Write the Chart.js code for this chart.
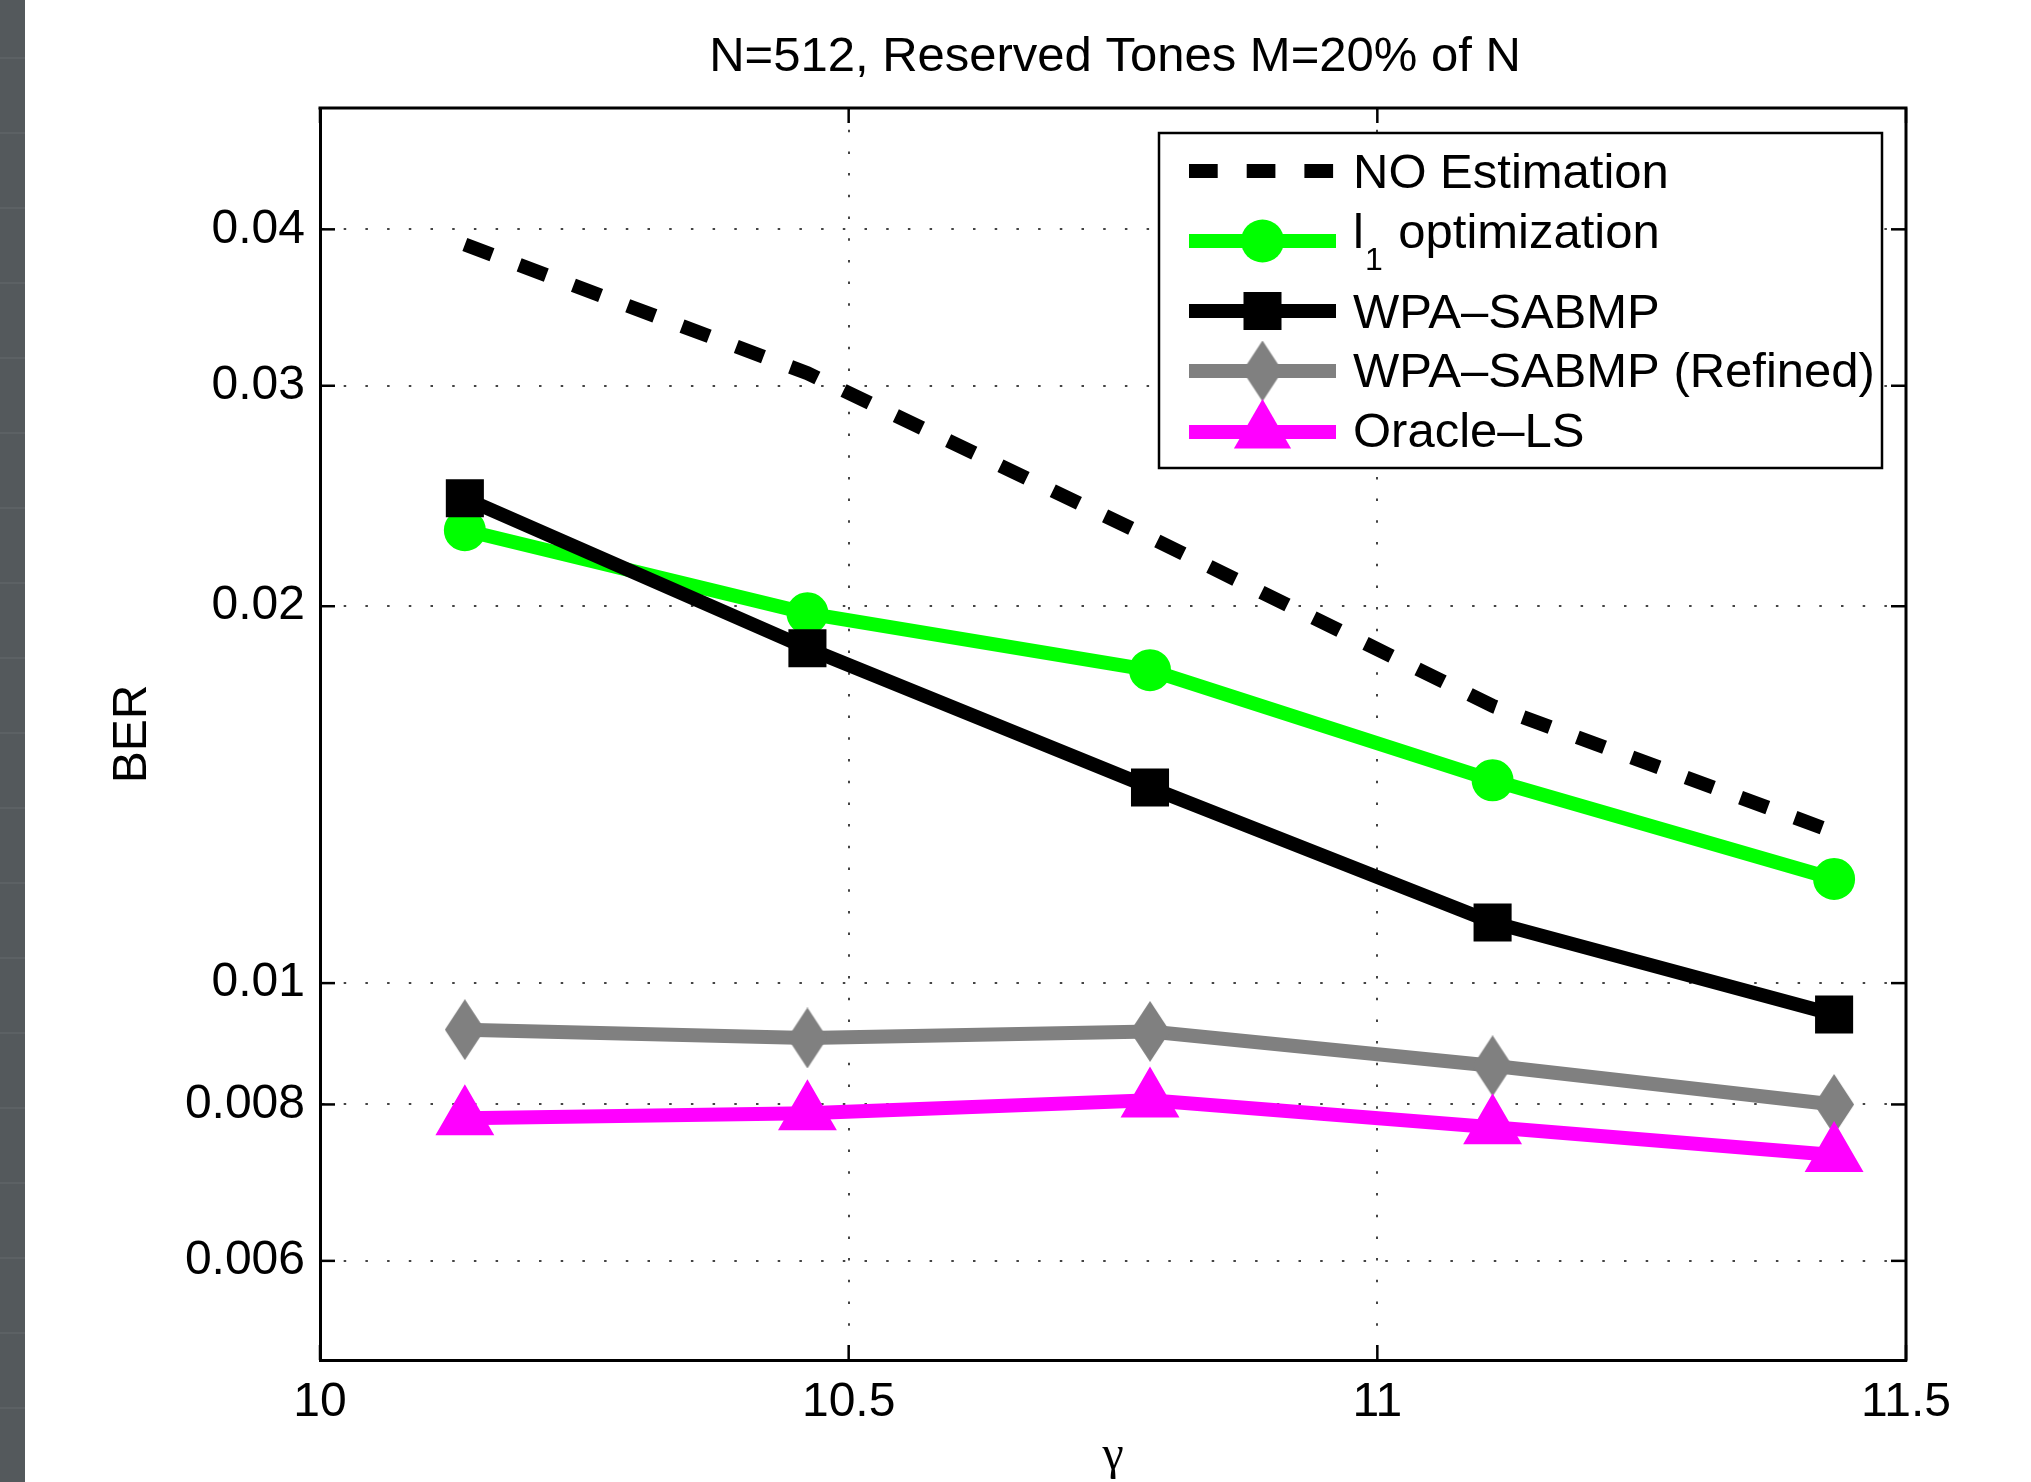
<!DOCTYPE html>
<html><head><meta charset="utf-8">
<script src="https://cdn.jsdelivr.net/npm/chart.js@4.4.1/dist/chart.umd.min.js"></script>
<style>
html,body{margin:0;padding:0;background:#fff;width:2031px;height:1482px;overflow:hidden}
#wrap{position:relative;width:2031px;height:1482px}
#bar{position:absolute;left:0;top:0;width:25px;height:1482px;background:#54595c;
 background-image:repeating-linear-gradient(to bottom, transparent 0px, transparent 57px, #5c6164 57px, #5c6164 59px, transparent 59px, transparent 75px);}
canvas{position:absolute;left:0;top:0}
</style></head><body>
<div id="wrap"><canvas id="c" width="2031" height="1482"></canvas><div id="bar"></div></div>
<script>
// ---- data ----
const titleText = 'N=512, Reserved Tones M=20% of N';
const xLabel = 'γ';
const yLabel = 'BER';
const gammaValues = [10.137, 10.461, 10.785, 11.109, 11.432];
const noEstimation = [0.0389, 0.0307, 0.0227, 0.01665, 0.0132];
const l1Optimization = [0.0230, 0.01974, 0.01778, 0.01452, 0.01211];
const wpaSabmp = [0.02439, 0.01851, 0.01433, 0.01118, 0.00944];
const wpaSabmpRefined = [0.00918, 0.00904, 0.00915, 0.00859, 0.0080];
const oracleLs = [0.0078, 0.00787, 0.00806, 0.00767, 0.00729];
const seriesNames = ['NO Estimation', 'l1 optimization', 'WPA–SABMP', 'WPA–SABMP (Refined)', 'Oracle–LS'];
const xTickValues = [10, 10.5, 11, 11.5];
const xTickLabels = ['10', '10.5', '11', '11.5'];
const yTickValues = [0.006, 0.008, 0.01, 0.02, 0.03, 0.04];
const yTickLabels = ['0.006', '0.008', '0.01', '0.02', '0.03', '0.04'];

// ---- styles ----
const FONT = "'Liberation Sans', Arial, Helvetica, sans-serif";
const GREEN = '#00ff00', GRAY = '#808080', MAGENTA = '#ff00ff', BLACK = '#000000';
const LW = 14;

function diamondCanvas(w, h, color) {
  const c = document.createElement('canvas');
  c.width = w; c.height = h;
  const g = c.getContext('2d');
  g.fillStyle = color;
  g.beginPath();
  g.moveTo(w / 2, 0); g.lineTo(w, h / 2); g.lineTo(w / 2, h); g.lineTo(0, h / 2);
  g.closePath(); g.fill();
  return c;
}
const diamond = diamondCanvas(40, 61, GRAY);

function pts(ys) { return gammaValues.map((x, i) => ({x: x, y: ys[i]})); }

const decor = {
  id: 'decor',
  afterDraw(chart) {
    const {ctx, chartArea: a, scales} = chart;
    const xs = scales.x, ys = scales.y;
    ctx.save();
    const line = (x1, y1, x2, y2) => { ctx.beginPath(); ctx.moveTo(x1, y1); ctx.lineTo(x2, y2); ctx.stroke(); };
    ctx.strokeStyle = BLACK;
    ctx.lineWidth = 3;
    ctx.beginPath(); ctx.moveTo(a.left - 1.5, a.top); ctx.lineTo(a.right, a.top); ctx.lineTo(a.right, a.bottom + 1.5); ctx.stroke();
    ctx.lineWidth = 2.5;
    const TL = 15;
    yTickValues.forEach(v => {
      const py = ys.getPixelForValue(v);
      line(a.left, py, a.left + TL, py);
      line(a.right - TL, py, a.right, py);
    });
    xTickValues.forEach(v => {
      const px = xs.getPixelForValue(v);
      line(px, a.bottom, px, a.bottom - TL);
      line(px, a.top, px, a.top + TL);
    });
    // title
    ctx.fillStyle = BLACK;
    ctx.font = '49px ' + FONT;
    ctx.textAlign = 'center';
    ctx.textBaseline = 'alphabetic';
    ctx.fillText(titleText, (a.left + a.right) / 2 + 2, 71);

    // legend
    const bx = 1159, by = 133, bw = 1882 - 1159, bh = 468 - 133;
    ctx.fillStyle = '#fff';
    ctx.fillRect(bx, by, bw, bh);
    ctx.strokeStyle = BLACK; ctx.lineWidth = 2.5;
    ctx.strokeRect(bx, by, bw, bh);
    const lx1 = 1189, lx2 = 1336, mx = (lx1 + lx2) / 2, tx = 1353;
    const rowY = [171, 241, 311, 371, 432];
    const base = [188, 248, 328, 387, 447];
    const colors = [BLACK, GREEN, BLACK, GRAY, MAGENTA];
    ctx.lineCap = 'butt';
    for (let i = 0; i < 5; i++) {
      ctx.strokeStyle = colors[i];
      ctx.lineWidth = LW;
      ctx.setLineDash(i === 0 ? [28.7, 29] : []);
      line(lx1, rowY[i], lx2, rowY[i]);
      ctx.setLineDash([]);
      ctx.fillStyle = colors[i];
      const cy = rowY[i];
      if (i === 1) { ctx.beginPath(); ctx.arc(mx, cy, 21.5, 0, Math.PI * 2); ctx.fill(); }
      if (i === 2) { ctx.fillRect(mx - 19, cy - 19, 38, 38); }
      if (i === 3) { ctx.drawImage(diamond, mx - 20, cy - 30.5); }
      if (i === 4) {
        const r = 33;
        ctx.beginPath();
        ctx.moveTo(mx, cy - r);
        ctx.lineTo(mx + r * Math.sin(2 * Math.PI / 3), cy + r / 2);
        ctx.lineTo(mx - r * Math.sin(2 * Math.PI / 3), cy + r / 2);
        ctx.closePath(); ctx.fill();
      }
    }
    ctx.fillStyle = BLACK;
    ctx.textAlign = 'left';
    const LF = '49px ' + FONT;
    ctx.font = LF;
    for (let i = 0; i < 5; i++) {
      if (i === 1) {
        ctx.font = LF;
        ctx.fillText('l', tx, base[i]);
        const wl = ctx.measureText('l').width;
        ctx.font = '32px ' + FONT;
        ctx.fillText('1', tx + wl + 1, 270);
        const w1 = ctx.measureText('1').width;
        ctx.font = LF;
        ctx.fillText(' optimization', tx + wl + 1 + w1 + 2, base[i]);
      } else {
        ctx.fillText(seriesNames[i], tx, base[i]);
      }
    }
    ctx.restore();
  }
};

const common = {borderWidth: LW, tension: 0, borderJoinStyle: 'miter', borderCapStyle: 'butt', fill: false, pointHoverRadius: 0};

new Chart(document.getElementById('c'), {
  type: 'line',
  data: {
    datasets: [
      Object.assign({}, common, {label: seriesNames[0], data: pts(noEstimation), borderColor: BLACK, backgroundColor: BLACK,
        borderDash: [29, 29], pointRadius: 0, order: 5}),
      Object.assign({}, common, {label: seriesNames[1], data: pts(l1Optimization), borderColor: GREEN, backgroundColor: GREEN,
        pointStyle: 'circle', pointRadius: 20, pointBorderWidth: 2, pointBackgroundColor: GREEN, pointBorderColor: GREEN, order: 4}),
      Object.assign({}, common, {label: seriesNames[2], data: pts(wpaSabmp), borderColor: BLACK, backgroundColor: BLACK,
        pointStyle: 'rect', pointRadius: 25.5, pointBorderWidth: 2, pointBackgroundColor: BLACK, pointBorderColor: BLACK, order: 3}),
      Object.assign({}, common, {label: seriesNames[3], data: pts(wpaSabmpRefined), borderColor: GRAY, backgroundColor: GRAY,
        pointStyle: diamond, pointRadius: 20, pointBorderWidth: 0, pointBackgroundColor: GRAY, pointBorderColor: GRAY, order: 2}),
      Object.assign({}, common, {label: seriesNames[4], data: pts(oracleLs), borderColor: MAGENTA, backgroundColor: MAGENTA,
        pointStyle: 'triangle', pointRadius: 32, pointBorderWidth: 2, pointBackgroundColor: MAGENTA, pointBorderColor: MAGENTA, order: 1})
    ]
  },
  options: {
    responsive: false,
    devicePixelRatio: 1,
    animation: false,
    events: [],
    layout: {padding: {top: 108, right: 125, left: 0, bottom: 0}},
    plugins: {legend: {display: false}, tooltip: {enabled: false}, title: {display: false}},
    scales: {
      x: {
        type: 'linear', min: 10, max: 11.5,
        afterBuildTicks: s => { s.ticks = xTickValues.map(v => ({value: v})); },
        afterFit: s => { s.height = 122; },
        ticks: {
          autoSkip: false, maxRotation: 0, padding: 14, color: BLACK,
          font: {family: FONT, size: 48},
          callback: v => { const i = xTickValues.indexOf(v); return i >= 0 ? xTickLabels[i] : ''; }
        },
        grid: {color: '#444', lineWidth: 2, drawTicks: false},
        border: {display: true, color: BLACK, width: 3, dash: [2.5, 19.2]},
        title: {display: true, text: xLabel, color: BLACK, font: {family: "'Liberation Serif', 'DejaVu Serif', serif", size: 48, lineHeight: 1}, padding: {top: 0, bottom: 2}}
      },
      y: {
        type: 'logarithmic', min: 0.005, max: 0.05,
        afterBuildTicks: s => { s.ticks = yTickValues.map(v => ({value: v})); },
        afterFit: s => { s.width = 320; },
        ticks: {
          autoSkip: false, padding: 15, color: BLACK,
          font: {family: FONT, size: 48},
          callback: v => { const i = yTickValues.findIndex(t => Math.abs(t - v) < 1e-9); return i >= 0 ? yTickLabels[i] : ''; }
        },
        grid: {color: '#444', lineWidth: 2, drawTicks: false},
        border: {display: true, color: BLACK, width: 3, dash: [2.5, 19.2]},
        title: {display: true, text: yLabel, color: BLACK, font: {family: FONT, size: 48}, padding: {top: 104, bottom: 0}}
      }
    }
  },
  plugins: [decor]
});
</script>
</body></html>
